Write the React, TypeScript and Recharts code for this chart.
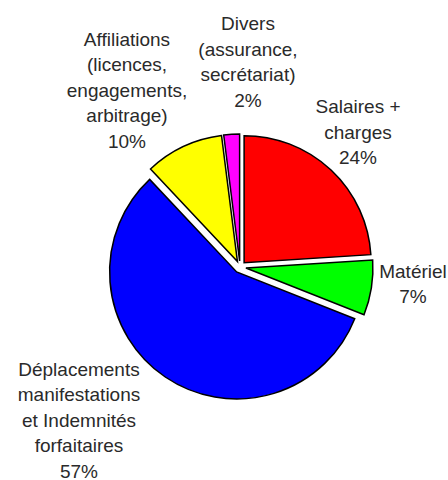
import { Cell, Pie, PieChart, Sector } from "recharts";

const categories = [
    "Salaires + charges",
    "Matériel",
    "Déplacements manifestations et Indemnités forfaitaires",
    "Affiliations (licences, engagements, arbitrage)",
    "Divers (assurance, secrétariat)",
];
const shares = [24, 7, 57, 10, 2];
const labelLines = [
    ["Salaires +", "charges"],
    ["Matériel"],
    ["Déplacements", "manifestations", "et Indemnités", "forfaitaires"],
    ["Affiliations", "(licences,", "engagements,", "arbitrage)"],
    ["Divers", "(assurance,", "secrétariat)"],
];
const colors = ["#ff0000", "#00ff00", "#0000ff", "#ffff00", "#ff00ff"];

// where each label block sits, relative to the pie centre
const labelOffsets = [
    [118, -135],
    [173, 17],
    [-161, 153],
    [-113, -177],
    [8, -205],
];

const RAD = Math.PI / 180;
const EXPLODE = 6;
const LINE_H = 25.5;

const data = categories.map((name, i) => ({ name, value: shares[i] }));

function ExplodedSector(props: any) {
    const { cx, cy, midAngle } = props;
    const dx = EXPLODE * Math.cos(-midAngle * RAD);
    const dy = EXPLODE * Math.sin(-midAngle * RAD);
    return (
        <Sector
            {...props}
            cx={cx + dx}
            cy={cy + dy}
            stroke="#000"
            strokeWidth={1.5}
        />
    );
}

function renderLabel(props: any) {
    const { cx, cy, index, value } = props;
    const lines = [...labelLines[index], `${value}%`];
    const [ox, oy] = labelOffsets[index];
    const top = cy + oy - ((lines.length - 1) * LINE_H) / 2;
    return (
        <g key={`lbl-${index}`}>
            {lines.map((line, i) => (
                <text
                    key={i}
                    x={cx + ox}
                    y={top + i * LINE_H}
                    textAnchor="middle"
                    dominantBaseline="central"
                    fontFamily="'Liberation Sans', Arial, sans-serif"
                    fontSize={19}
                    fill="#2a2a2a"
                >
                    {line}
                </text>
            ))}
        </g>
    );
}

export default function App() {
    return (
        <div style={{ position: "absolute", left: 0, top: 0, background: "#fff" }}>
            <PieChart width={448} height={480}>
                <Pie
                    data={data}
                    dataKey="value"
                    cx={235}
                    cy={262}
                    outerRadius={127}
                    startAngle={90}
                    endAngle={-270}
                    shape={ExplodedSector}
                    label={renderLabel}
                    labelLine={false}
                    isAnimationActive={false}
                >
                    {data.map((d, i) => (
                        <Cell key={d.name} fill={colors[i]} />
                    ))}
                </Pie>
            </PieChart>
        </div>
    );
}
